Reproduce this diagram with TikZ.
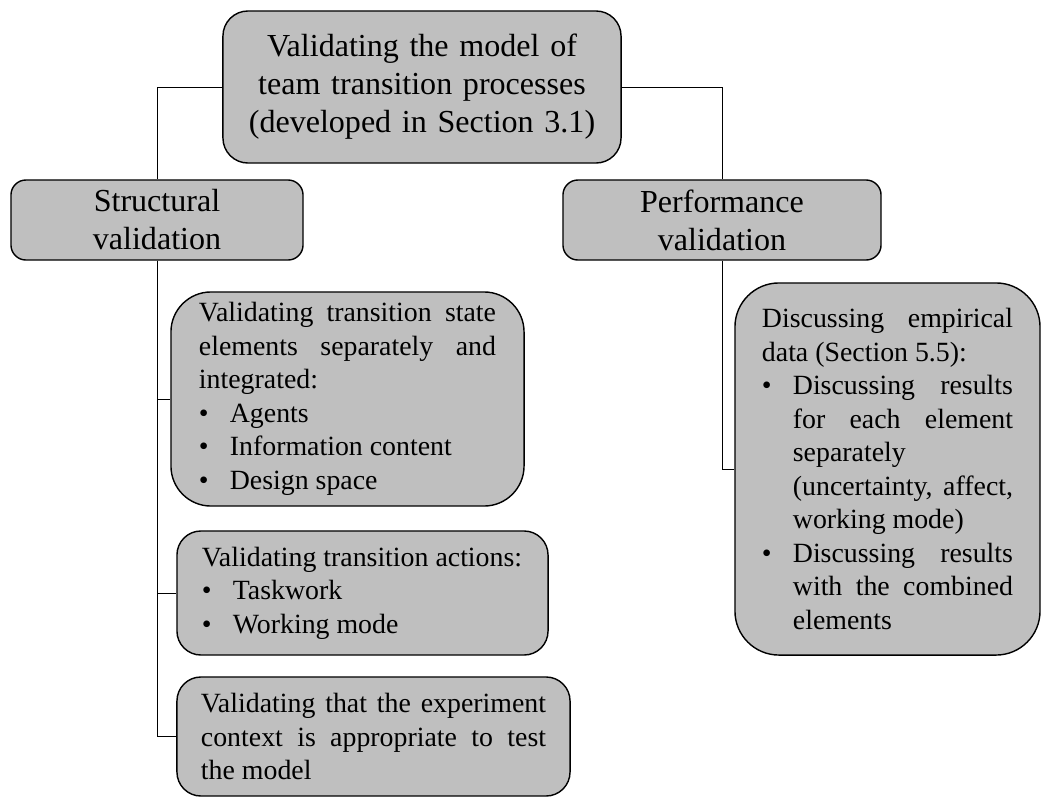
\documentclass[tikz,border=0pt]{standalone}
\usepackage{fontspec}
\setmainfont{Liberation Serif}
\usepackage{xcolor}
\definecolor{boxink}{HTML}{000000}
\definecolor{boxgray}{HTML}{BFBFBF}
\setlength{\parindent}{0pt}
\newcommand{\bulletline}{\par\hangindent=22pt\hangafter=1\noindent\makebox[22pt][l]{\textbullet}}

\begin{document}
\begin{tikzpicture}[x=0.025cm, y=-0.025cm,
                    every node/.style={boxink},
                    headbox/.style={draw=boxink, fill=boxgray, line width=1pt, inner sep=0pt,
                                    align=center, font=\fontsize{22.8pt}{27pt}\selectfont},
                    itembox/.style={draw=boxink, fill=boxgray, line width=1pt, inner sep=0pt,
                                    align=justify, font=\fontsize{19.8pt}{23.8pt}\selectfont},
                    link/.style={boxink, line width=0.6pt}]

  \useasboundingbox (0,0) rectangle (1042,798);

  %% top of the tree
  \node[headbox, rounded corners=0.625cm, minimum width=9.95cm, minimum height=3.8cm,
        text width=9.6cm] (model) at (422,87)
        {Validating the model of\\ team transition processes\\ (developed in Section 3.1)};

  %% the two kinds of validation
  \node[headbox, rounded corners=0.375cm, minimum width=7.3cm, minimum height=2cm,
        text width=7cm] (struct) at (157,220) {Structural\\ validation};
  \node[headbox, rounded corners=0.375cm, minimum width=7.95cm, minimum height=2cm,
        text width=7.6cm] (perf) at (722,220) {Performance\\ validation};

  %% structural branch
  \node[itembox, rounded corners=1cm, minimum width=8.825cm, minimum height=5.35cm,
        text width=7.425cm] (states) at (347.5,399)
        {Validating transition state\linebreak elements separately and\linebreak integrated:
         \bulletline Agents
         \bulletline Information content
         \bulletline Design space\par};
  \node[itembox, rounded corners=0.6cm, minimum width=9.275cm, minimum height=3.1cm,
        text width=8.025cm] (actions) at (362.5,593)
        {Validating transition actions:
         \bulletline Taskwork
         \bulletline Working mode\par};
  \node[itembox, rounded corners=0.6cm, minimum width=9.825cm, minimum height=2.975cm,
        text width=8.625cm] (context) at (373.5,736.5)
        {Validating that the experiment\linebreak context is appropriate to test\linebreak the model\par};

  %% performance branch
  \node[itembox, rounded corners=1.1cm, minimum width=7.625cm, minimum height=9.3cm,
        text width=6.275cm] (empirical) at (887.5,469)
        {Discussing empirical\linebreak data (Section 5.5):
         \bulletline Discussing results\linebreak for each element\linebreak separately\newline
         (uncertainty, affect,\linebreak working mode)
         \bulletline Discussing results\linebreak with the combined\linebreak elements\par};

  %% connectors
  \draw[link] (model.west) -| (struct.north);
  \draw[link] (model.east) -| (perf.north);
  \draw[link] (struct.south) |- (states.west);
  \draw[link] (struct.south) |- (actions.west);
  \draw[link] (struct.south) |- (context.west);
  \draw[link] (perf.south) |- (empirical.west);

\end{tikzpicture}
\end{document}
